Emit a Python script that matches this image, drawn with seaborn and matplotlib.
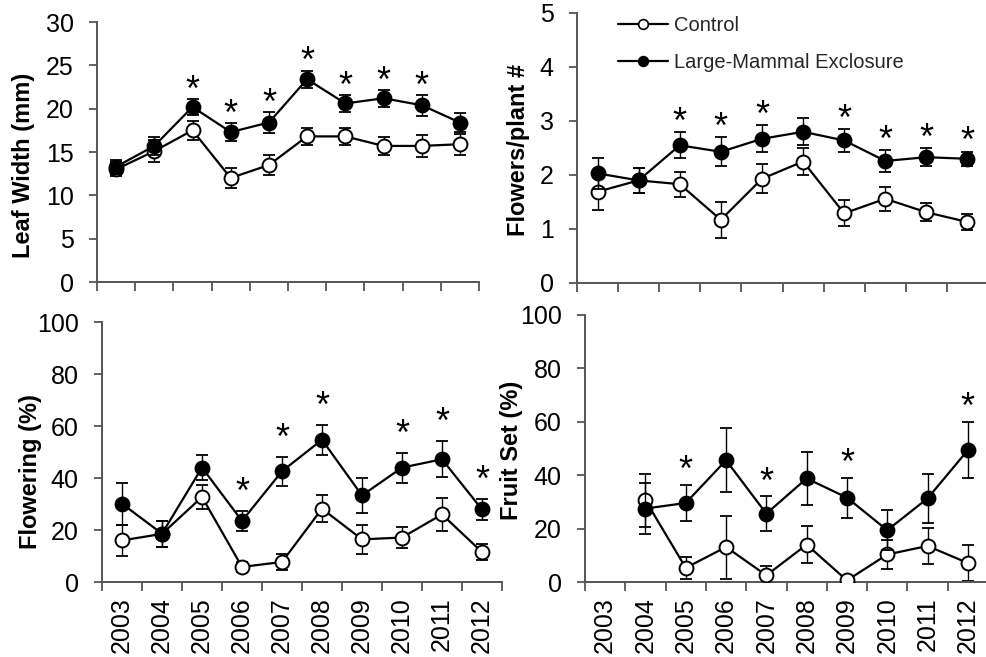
import matplotlib
matplotlib.use("Agg")
import numpy as np
import pandas as pd
import matplotlib.pyplot as plt
import seaborn as sns
from matplotlib.lines import Line2D

years = ["2003", "2004", "2005", "2006", "2007", "2008", "2009", "2010", "2011", "2012"]

# Leaf width (mm)
leaf_ctrl = [13.0, 15.1, 17.5, 12.0, 13.5, 16.8, 16.8, 15.7, 15.7, 15.9]
leaf_ctrl_se = [0.8, 1.3, 1.1, 1.1, 1.2, 1.0, 1.0, 1.05, 1.3, 1.2]
leaf_excl = [13.3, 15.7, 20.2, 17.3, 18.4, 23.4, 20.6, 21.2, 20.4, 18.4]
leaf_excl_se = [0.8, 1.0, 0.95, 1.05, 1.25, 1.0, 0.95, 1.0, 1.2, 1.05]
leaf_sig = [0, 0, 1, 1, 1, 1, 1, 1, 1, 0]

# Flowers per plant
flw_ctrl = [1.69, 1.90, 1.83, 1.17, 1.93, 2.25, 1.29, 1.56, 1.31, 1.13]
flw_ctrl_se = [0.34, 0.23, 0.23, 0.33, 0.27, 0.25, 0.24, 0.22, 0.17, 0.15]
flw_excl = [2.03, 1.90, 2.55, 2.43, 2.67, 2.80, 2.64, 2.26, 2.33, 2.30]
flw_excl_se = [0.28, 0.23, 0.24, 0.27, 0.25, 0.25, 0.21, 0.20, 0.17, 0.13]
flw_sig = [0, 0, 1, 1, 1, 0, 1, 1, 1, 1]

# Flowering (%)
pct_ctrl = [16.0, 18.5, 32.7, 5.8, 7.7, 28.2, 16.4, 17.1, 26.0, 11.5]
pct_ctrl_se = [6.0, 5.0, 4.5, 2.0, 3.0, 5.3, 5.5, 4.0, 6.2, 3.0]
pct_excl = [30.1, 18.6, 44.0, 23.5, 42.6, 54.7, 33.3, 44.0, 47.2, 27.9]
pct_excl_se = [8.0, 5.0, 4.8, 4.0, 5.6, 5.8, 6.7, 5.8, 7.0, 4.1]
pct_sig = [0, 0, 0, 1, 1, 1, 0, 1, 1, 1]

# Fruit set (%)
fruit_ctrl = [np.nan, 30.6, 5.3, 13.1, 2.5, 14.0, 0.6, 10.3, 13.5, 7.1]
fruit_ctrl_se = [np.nan, 10.0, 4.0, 11.8, 3.5, 7.0, 0.0, 5.5, 6.8, 6.6]
fruit_excl = [np.nan, 27.5, 29.6, 45.6, 25.6, 38.8, 31.6, 19.4, 31.3, 49.4]
fruit_excl_se = [np.nan, 9.5, 6.9, 12.0, 6.5, 10.0, 7.5, 7.5, 9.2, 10.5]
fruit_sig = [0, 0, 1, 0, 1, 0, 1, 0, 0, 1]

labels = ["Control", "Large-Mammal Exclosure"]

sns.set_theme(style="white")
plt.rcParams["font.family"] = ["Liberation Sans", "DejaVu Sans"]

W, H = 986, 657
fig = plt.figure(figsize=(W / 100, H / 100), dpi=100)


def px_axes(left, right, top, bottom):
    return fig.add_axes([left / W, (H - bottom) / H, (right - left) / W, (bottom - top) / H])


AX_COL = "#555555"
x = np.arange(len(years))


def draw_panel(ax, ctrl, ctrl_se, excl, excl_se, sig, ymax, ystep, ylabel,
               lab_xy, star_off, show_years):
    df = pd.DataFrame({"x": np.concatenate([x, x]),
                       "y": np.concatenate([ctrl, excl]),
                       "grp": [labels[0]] * len(x) + [labels[1]] * len(x)})
    for g, face, z in [(labels[0], "white", 3), (labels[1], "black", 4)]:
        sub = df[df.grp == g].dropna()
        se = np.array(ctrl_se if g == labels[0] else excl_se, dtype=float)
        yy = np.array(ctrl if g == labels[0] else excl, dtype=float)
        ok = ~np.isnan(yy)
        ax.errorbar(x[ok], yy[ok], yerr=se[ok], fmt="none", ecolor="black",
                    elinewidth=1.0, capsize=4.5, capthick=1.3, zorder=z - 0.5)
        sns.lineplot(data=sub, x="x", y="y", ax=ax, color="black", linewidth=1.6,
                     marker="o", markersize=10, markerfacecolor=face,
                     markeredgecolor="black", markeredgewidth=1.4,
                     estimator=None, sort=False, legend=False, zorder=z)
    # significance marks above the higher error bar
    for i, s in enumerate(sig):
        if s:
            top = np.nanmax([ctrl[i] + ctrl_se[i], excl[i] + excl_se[i]])
            ax.annotate("*", xy=(x[i], top), xytext=(0, star_off),
                        textcoords="offset points", ha="center", va="center",
                        fontsize=26, color="black")

    ax.set_xlim(-0.5, len(years) - 0.5)
    ax.set_ylim(0, ymax)
    ax.set_yticks(np.arange(0, ymax + ystep / 2, ystep))
    ax.set_xticks(x)
    ax.set_xticks(np.arange(-0.5, len(years)), minor=True)
    if show_years:
        ax.set_xticklabels(years, rotation=90)
    else:
        ax.set_xticklabels([])
    ax.tick_params(axis="x", which="major", length=0, pad=11, labelsize=18, labelcolor="black")
    ax.tick_params(axis="x", which="minor", length=6.5, width=1.3, color=AX_COL, bottom=True)
    ax.tick_params(axis="y", which="major", length=5.8, width=1.3, color=AX_COL, pad=11,
                   labelsize=18, labelcolor="black", left=True)
    for side in ["top", "right"]:
        ax.spines[side].set_visible(False)
    for side in ["left", "bottom"]:
        ax.spines[side].set_color(AX_COL)
        ax.spines[side].set_linewidth(1.4)
    ax.set_xlabel("")
    ax.set_ylabel(ylabel, fontsize=17, fontweight="bold", color="black")
    ax.yaxis.set_label_coords(*lab_xy)
    ax.set_facecolor("white")


ax1 = px_axes(97, 479, 22, 282)
ax2 = px_axes(577, 988, 13, 283)
ax3 = px_axes(102, 502, 322, 582)
ax4 = px_axes(585, 988, 315, 582)

draw_panel(ax1, leaf_ctrl, leaf_ctrl_se, leaf_excl, leaf_excl_se, leaf_sig,
           30, 5, "Leaf Width (mm)", (-0.162, 0.45), 5.5, False)
draw_panel(ax2, flw_ctrl, flw_ctrl_se, flw_excl, flw_excl_se, flw_sig,
           5, 1, "Flowers/plant #", (-0.114, 0.493), 6.5, False)
draw_panel(ax3, pct_ctrl, pct_ctrl_se, pct_excl, pct_excl_se, pct_sig,
           100, 20, "Flowering (%)", (-0.15, 0.423), 12.5, True)
draw_panel(ax4, fruit_ctrl, fruit_ctrl_se, fruit_excl, fruit_excl_se, fruit_sig,
           100, 20, "Fruit Set (%)", (-0.154, 0.494), 9.5, True)

handles = [Line2D([], [], color="black", lw=1.6, marker="o", markersize=7,
                  markerfacecolor=f, markeredgecolor="black", markeredgewidth=1.2)
           for f in ["white", "black"]]
fig.legend(handles, labels, loc="upper left", bbox_to_anchor=(618 / W, 1 - 16 / H),
           frameon=False, fontsize=14.5, handlelength=2.5, handletextpad=0.3,
           labelspacing=0.9, borderpad=0, borderaxespad=0)

fig.savefig("out.png", dpi=100, facecolor="white")
